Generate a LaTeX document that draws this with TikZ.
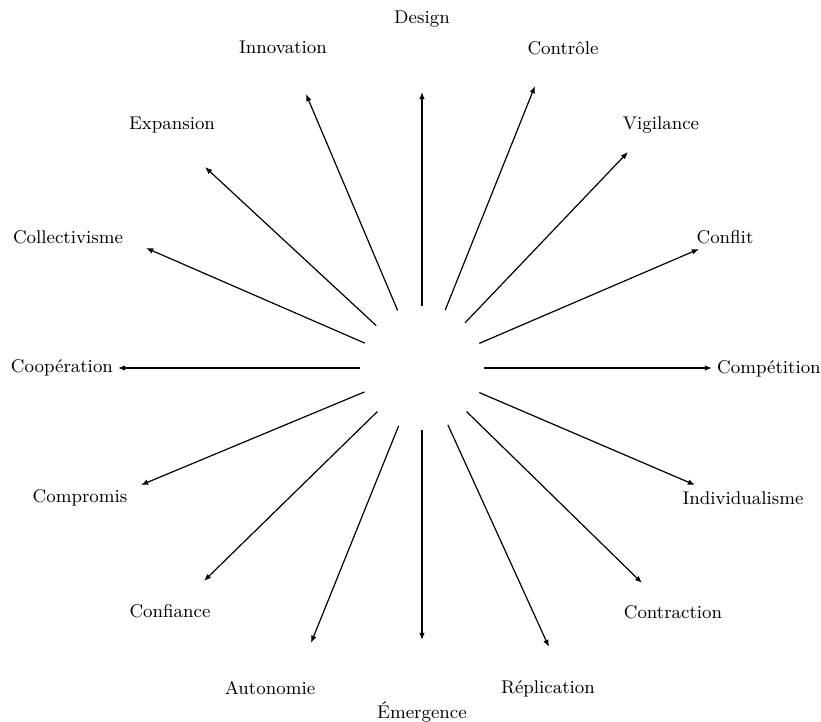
\documentclass[tikz,border=0pt]{standalone}
\usepackage{tikz}
\usetikzlibrary{arrows.meta}

\begin{document}
\begin{tikzpicture}[x=0.5pt,y=0.5pt,
    hub/.style={circle,minimum size=62pt,inner sep=0pt},
    lbl/.style={font=\fontsize{9.2}{11}\selectfont,inner sep=1pt},
    ray/.style={-{Latex[length=3.6pt,width=2.8pt]},line width=0.6pt}]
      \useasboundingbox (-422,-354) rectangle (399,368);
      \node[hub](hub) at (0,0) {};
      % labels
      \node[lbl](design) at (0,349){Design};
      \node[lbl](controle) at (141,320){Contrôle};
      \node[lbl](vigilance) at (239,243){Vigilance};
      \node[lbl](conflit) at (303,131){Conflit};
      \node[lbl](competition) at (347,-1){Compétition};
      \node[lbl](individualisme) at (321,-130){Individualisme};
      \node[lbl](contraction) at (251,-244){Contraction};
      \node[lbl](replication) at (126,-321){Réplication};
      \node[lbl](emergence) at (0,-344){Émergence};
      \node[lbl](autonomie) at (-152,-320){Autonomie};
      \node[lbl](confiance) at (-252,-243){Confiance};
      \node[lbl](compromis) at (-342,-130){Compromis};
      \node[lbl](cooperation) at (-360,0){Coopération};
      \node[lbl](collectivisme) at (-354,131){Collectivisme};
      \node[lbl](expansion) at (-250,243){Expansion};
      \node[lbl](innovation) at (-139,321){Innovation};
      % arrow tips
      \coordinate (t-design) at (0,276);
      \coordinate (t-controle) at (113,282);
      \coordinate (t-vigilance) at (206,216);
      \coordinate (t-conflit) at (277,119);
      \coordinate (t-competition) at (290,0);
      \coordinate (t-individualisme) at (273,-117);
      \coordinate (t-contraction) at (220,-215);
      \coordinate (t-replication) at (127,-279);
      \coordinate (t-emergence) at (0,-272);
      \coordinate (t-autonomie) at (-111,-275);
      \coordinate (t-confiance) at (-218,-213);
      \coordinate (t-compromis) at (-281,-117);
      \coordinate (t-cooperation) at (-304,0);
      \coordinate (t-collectivisme) at (-276,120);
      \coordinate (t-expansion) at (-217,201);
      \coordinate (t-innovation) at (-116,274);
      \foreach \n in {design,controle,vigilance,conflit,competition,
        individualisme,contraction,replication,emergence,autonomie,
        confiance,compromis,cooperation,collectivisme,expansion,innovation}
        \draw[ray] (hub) -- (t-\n);
    \end{tikzpicture}
\end{document}
